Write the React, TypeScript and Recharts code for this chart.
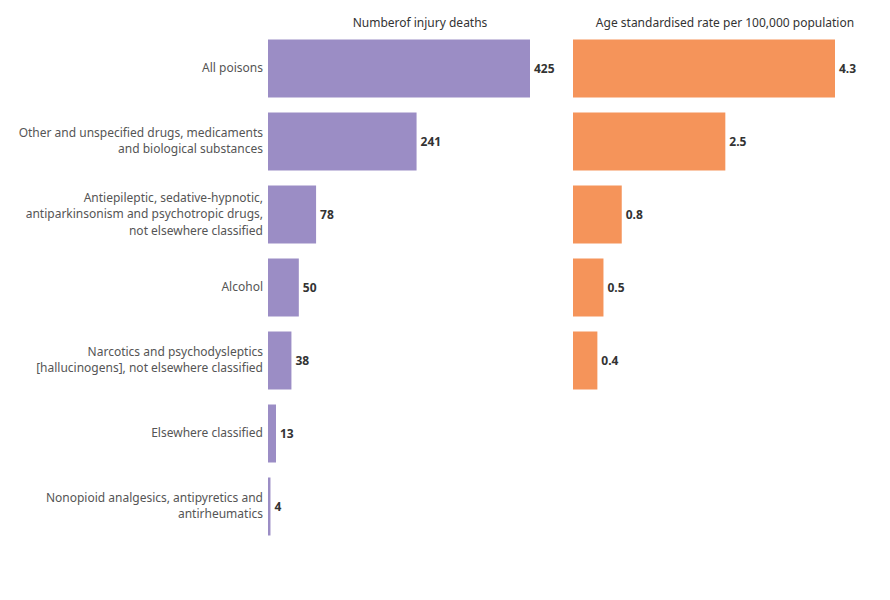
import { BarChart, Bar, XAxis, YAxis, LabelList } from 'recharts';

const categories = [
  'All poisons',
  'Other and unspecified drugs, medicaments\nand biological substances',
  'Antiepileptic, sedative-hypnotic,\nantiparkinsonism and psychotropic drugs,\nnot elsewhere classified',
  'Alcohol',
  'Narcotics and psychodysleptics\n[hallucinogens], not elsewhere classified',
  'Elsewhere classified',
  'Nonopioid analgesics, antipyretics and\nantirheumatics',
];

const deaths = [425, 241, 78, 50, 38, 13, 4];
const rates: (number | null)[] = [4.3, 2.5, 0.8, 0.5, 0.4, null, null];

const data = categories.map((name, i) => ({ name, deaths: deaths[i], rate: rates[i] }));

const FONT = '"Noto Sans", "Open Sans", sans-serif';
const PURPLE = '#9b8dc5';
const ORANGE = '#f5945a';

const CategoryTick = ({ x, y, payload }: any) => {
  const lines = String(payload.value).split('\n');
  const lh = 16.5;
  const tx = x + 3;
  return (
    <text x={tx} y={y} textAnchor="end" fontSize={12} fill="#555" fontFamily={FONT}>
      {lines.map((line, i) => (
        <tspan key={i} x={tx} dy={i === 0 ? 4 - ((lines.length - 1) * lh) / 2 : lh}>
          {line}
        </tspan>
      ))}
    </text>
  );
};

const valueLabel = {
  fontSize: 12,
  fontWeight: 700,
  fill: '#333',
  fontFamily: FONT,
};

const titleStyle: React.CSSProperties = {
  position: 'absolute',
  top: 14,
  fontSize: 12,
  color: '#333',
  fontFamily: FONT,
  whiteSpace: 'nowrap',
  transform: 'translateX(-50%)',
};

export default function App() {
  const margin = { top: 31.5, bottom: 57.5 };
  return (
    <div style={{ position: 'absolute', left: 0, top: 0, width: 890, height: 600, background: '#fff' }}>
      <div style={{ ...titleStyle, left: 420 }}>Numberof injury deaths</div>
      <div style={{ ...titleStyle, left: 725 }}>Age standardised rate per 100,000 population</div>
      <div style={{ position: 'absolute', left: 0, top: 0 }}>
        <BarChart
          width={560}
          height={600}
          data={data}
          layout="vertical"
          margin={{ ...margin, left: 0, right: 30 }}
          barSize={58}
        >
          <XAxis type="number" domain={[0, 425]} hide />
          <YAxis
            type="category"
            dataKey="name"
            width={268}
            axisLine={false}
            tickLine={false}
            tick={<CategoryTick />}
            interval={0}
          />
          <Bar dataKey="deaths" fill={PURPLE} isAnimationActive={false}>
            <LabelList dataKey="deaths" position="right" offset={4} style={valueLabel} />
          </Bar>
        </BarChart>
      </div>
      <div style={{ position: 'absolute', left: 560, top: 0 }}>
        <BarChart
          width={330}
          height={600}
          data={data}
          layout="vertical"
          margin={{ ...margin, left: 13, right: 55 }}
          barSize={58}
        >
          <XAxis type="number" domain={[0, 4.3]} hide />
          <YAxis type="category" dataKey="name" hide />
          <Bar dataKey="rate" fill={ORANGE} isAnimationActive={false}>
            <LabelList dataKey="rate" position="right" offset={4} style={valueLabel} />
          </Bar>
        </BarChart>
      </div>
    </div>
  );
}
